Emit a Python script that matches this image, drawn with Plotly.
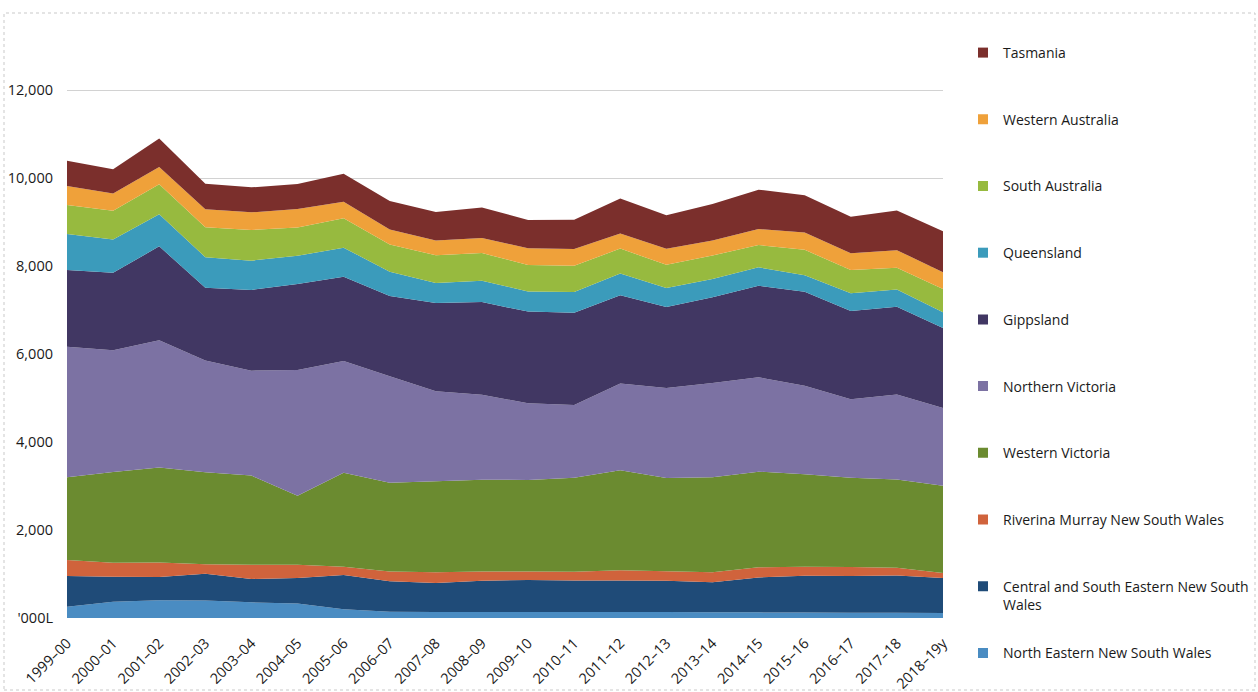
import plotly.graph_objects as go

# ---------------- data ('000 L) ----------------
years = ["1999–00", "2000–01", "2001–02", "2002–03", "2003–04", "2004–05",
         "2005–06", "2006–07", "2007–08", "2008–09", "2009–10", "2010–11",
         "2011–12", "2012–13", "2013–14", "2014–15", "2015–16", "2016–17",
         "2017–18", "2018–19y"]

north_eastern_nsw = [257, 367, 402, 398, 356, 330, 199, 141, 137, 134,
                     135, 135, 139, 135, 132, 128, 124, 121, 117, 114]
central_se_nsw = [698, 568, 529, 607, 532, 577, 779, 697, 659, 713,
                  731, 719, 711, 712, 681, 795, 834, 834, 848, 795]
riverina_murray = [363, 318, 328, 218, 325, 302, 189, 216, 244, 212,
                   189, 197, 236, 213, 228, 228, 205, 205, 175, 114]
western_victoria = [1880, 2068, 2159, 2091, 2023, 1568, 2136, 2018, 2068, 2084,
                    2084, 2137, 2273, 2121, 2159, 2175, 2105, 2029, 2007, 1984]
northern_victoria = [2968, 2766, 2893, 2539, 2386, 2857, 2539, 2425, 2045, 1931,
                     1741, 1652, 1968, 2045, 2143, 2143, 2009, 1780, 1932, 1766]
gippsland = [1743, 1757, 2136, 1652, 1834, 1955, 1916, 1819, 2007, 2105,
             2084, 2098, 2009, 1841, 1948, 2084, 2136, 2009, 1993, 1818]
queensland = [818, 759, 727, 696, 666, 643, 659, 552, 454, 486,
              455, 470, 491, 432, 416, 416, 377, 400, 393, 357]
south_australia = [659, 650, 682, 681, 698, 643, 668, 622, 630, 628,
                   606, 598, 568, 529, 531, 507, 578, 531, 493, 530]
western_australia = [432, 396, 394, 409, 400, 418, 377, 342, 334, 341,
                     378, 379, 341, 364, 341, 363, 393, 378, 402, 380]
tasmania = [575, 552, 645, 578, 568, 569, 637, 643, 650, 697,
            645, 666, 796, 759, 832, 896, 847, 834, 900, 932]

y_tick_values = [0, 2000, 4000, 6000, 8000, 10000, 12000]
y_tick_labels = ["'000L", "2,000", "4,000", "6,000", "8,000", "10,000", "12,000"]

# series, bottom of the stack first
series = [
    ("North Eastern New South Wales", "North Eastern New South Wales", north_eastern_nsw, "#4a8cc2"),
    ("Central and South Eastern New South Wales", "Central and South Eastern New South<br>Wales", central_se_nsw, "#1f4b78"),
    ("Riverina Murray New South Wales", "Riverina Murray New South Wales", riverina_murray, "#d0633c"),
    ("Western Victoria", "Western Victoria", western_victoria, "#6b8b30"),
    ("Northern Victoria", "Northern Victoria", northern_victoria, "#7c72a3"),
    ("Gippsland", "Gippsland", gippsland, "#413763"),
    ("Queensland", "Queensland", queensland, "#3b9bbb"),
    ("South Australia", "South Australia", south_australia, "#97ba3f"),
    ("Western Australia", "Western Australia", western_australia, "#efa13a"),
    ("Tasmania", "Tasmania", tasmania, "#7b2f2c"),
]

# ---------------- layout geometry ----------------
W, H = 1258, 692
PL, PR, PT, PB = 67, 943, 46, 618          # plot-area pixel box
FONT = "Open Sans"
TICK_SIZE = 14.5
LEGEND_TOP_ITEM = 52                       # pixel centre of the first legend entry
LEGEND_STEP = 66.7                         # pixel spacing between entries
LEGEND_LEFT = 963                          # pixel left of legend boxes


def px_x(p):
    return (p - PL) / (PR - PL)


def px_y(p):
    return (PB - p) / (PB - PT)


x = list(range(len(years)))
fig = go.Figure()

for name, label, vals, col in series:
    fig.add_trace(go.Scatter(
        x=x, y=vals, name=name, legendgroup=name, showlegend=False,
        stackgroup="one", mode="none", fillcolor=col,
        hovertemplate="%{y:,}<extra>" + name + "</extra>",
    ))

legend_common = dict(
    xref="container", yref="container",
    xanchor="left", yanchor="top", valign="top",
    font=dict(family=FONT, size=14, color="#1a1a1a"),
    bgcolor="rgba(0,0,0,0)", borderwidth=0, itemclick=False, itemdoubleclick=False,
)

legend_layouts = {}
# legend entries (square swatches), top of stack first; each entry its own legend box
for k, (name, label, vals, col) in enumerate(reversed(series)):
    lid = "legend" if k == 0 else f"legend{k + 1}"
    fig.add_trace(go.Scatter(
        x=[None], y=[None], mode="markers", name=label, legendgroup=name,
        marker=dict(symbol="square", size=10, color=col),
        legend=lid, showlegend=True, hoverinfo="skip",
    ))
    centre = LEGEND_TOP_ITEM + k * LEGEND_STEP
    legend_layouts[lid] = dict(x=LEGEND_LEFT / W, y=1 - (centre - 15) / H, **legend_common)

fig.update_layout(
    width=W, height=H, autosize=False,
    margin=dict(l=PL, r=W - PR, t=PT, b=H - PB, pad=0, autoexpand=False),
    paper_bgcolor="white", plot_bgcolor="white",
    font=dict(family=FONT, size=14, color="#1a1a1a"),
    xaxis=dict(
        range=[0, len(years) - 1], tickmode="array", tickvals=x, ticktext=years,
        tickangle=-45, showgrid=False, zeroline=False, showline=False, ticks="",
        ticklabelstandoff=13,
        tickfont=dict(family=FONT, size=TICK_SIZE, color="#1a1a1a"), automargin=False,
        fixedrange=True,
    ),
    yaxis=dict(
        range=[0, 13000], tickmode="array", tickvals=y_tick_values, ticktext=y_tick_labels,
        showgrid=True, gridcolor="#d2d2d2", gridwidth=1, zeroline=False, showline=False,
        ticks="", ticklabelstandoff=13,
        tickfont=dict(family=FONT, size=TICK_SIZE, color="#1a1a1a"), automargin=False,
        fixedrange=True,
    ),
    shapes=[dict(
        type="rect", xref="paper", yref="paper",
        x0=px_x(4), x1=px_x(1255), y0=px_y(690), y1=px_y(13),
        line=dict(color="#c9c9c9", width=1, dash="dot"), fillcolor="rgba(0,0,0,0)",
        layer="below",
    )],
    **legend_layouts,
)

fig.write_html("out.html")
